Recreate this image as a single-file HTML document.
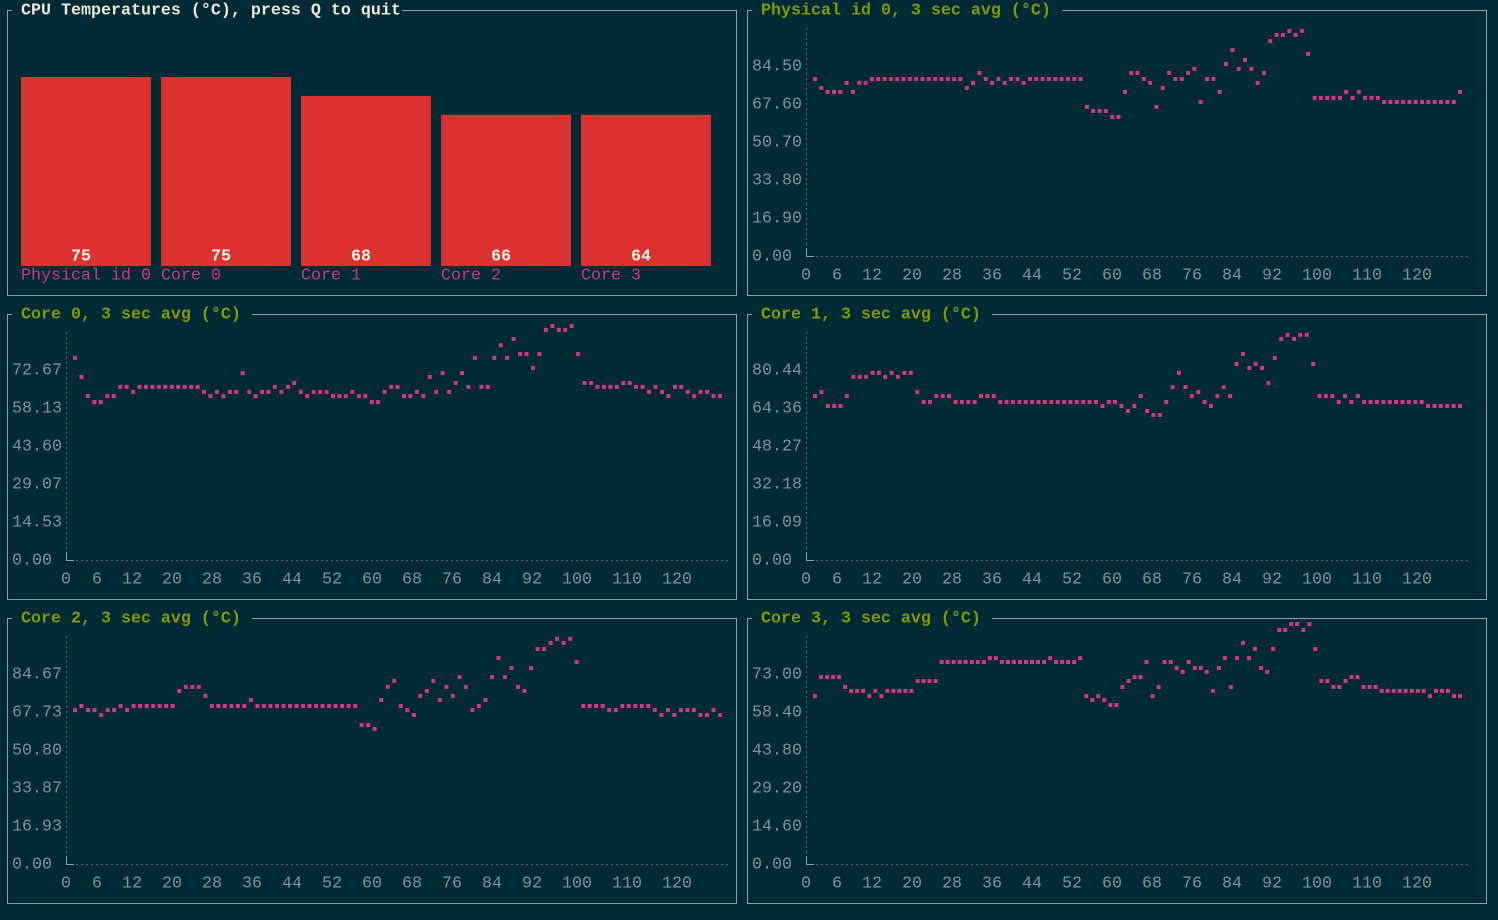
<!DOCTYPE html>
<html><head><meta charset="utf-8">
<style>
html,body{margin:0;padding:0;background:#002b36;}
svg{display:block;}
text{font-family:"Liberation Mono",monospace;font-size:16.67px;}
</style></head>
<body>
<svg id="root" width="1498" height="920" viewBox="0 0 1498 920" xmlns="http://www.w3.org/2000/svg">
<rect x="0" y="0" width="1498" height="920" fill="#002b36"/>
</svg>
<script>
// ---- bar chart data ----
const barLabels = ["Physical id 0","Core 0","Core 1","Core 2","Core 3"];
const barValues = [75,75,68,66,64];

// ---- line panels data ----
const panelTitles = ["Physical id 0, 3 sec avg (°C)","Core 0, 3 sec avg (°C)","Core 1, 3 sec avg (°C)","Core 2, 3 sec avg (°C)","Core 3, 3 sec avg (°C)"];
const yTickLabels1 = ["0.00","16.90","33.80","50.70","67.60","84.50"];
const yTickLabels2 = ["0.00","14.53","29.07","43.60","58.13","72.67"];
const yTickLabels3 = ["0.00","16.09","32.18","48.27","64.36","80.44"];
const yTickLabels4 = ["0.00","16.93","33.87","50.80","67.73","84.67"];
const yTickLabels5 = ["0.00","14.60","29.20","43.80","58.40","73.00"];
const xTickLabels = [0,6,12,20,28,36,44,52,60,68,76,84,92,100,110,120];

const seriesPhysical = [78.7,74.7,73,73,73,77,73,77,77,78.7,
78.7,78.7,78.7,78.7,78.7,78.7,78.7,78.7,78.7,78.7,78.7,78.7,78.7,78.7,
74.7,77,81.4,78.7,77,78.7,77,78.7,78.7,77,
78.7,78.7,78.7,78.7,78.7,78.7,78.7,78.7,78.7,
66.3,64.5,64.5,64.5,61.8,61.8,73,81.4,81.4,78.7,
77,66.3,74.7,81.4,78.7,78.7,81.4,83.2,68.5,78.7,78.7,73,85.4,91.6,83.2,87.2,83.2,77,81.4,
95.6,98.3,98.3,100.1,98.3,100.1,89.9,
70.3,70.3,70.3,70.3,70.3,73,70.3,73,70.3,70.3,70.3,
68.5,68.5,68.5,68.5,68.5,68.5,68.5,68.5,68.5,68.5,68.5,68.5,73];
const seriesCore0 = [77.3,70,62.7,60.4,60.4,62.7,62.7,66.2,66.2,64.3,66.2,66.2,66.2,66.2,66.2,66.2,66.2,66.2,66.2,66.2,
64.3,62.7,64.3,62.7,64.3,64.3,71.5,64.3,62.7,64.3,64.3,66.2,64.3,66.2,67.7,64.3,62.7,64.3,64.3,64.3,
62.7,62.7,62.7,64.3,62.7,62.7,60.4,60.4,64.3,66.2,66.2,62.7,
62.7,64.3,62.7,70,64.3,71.5,64.3,67.7,71.5,66.2,77.3,66.2,66.2,77.3,82.2,77.3,84.5,78.8,78.8,73.4,78.8,
88,89.5,88,88,89.5,78.8,67.7,67.7,66.2,66.2,66.2,66.2,67.7,67.7,66.2,66.2,64.3,66.2,64.3,62.7,66.2,66.2,64.3,62.7,64.3,64.3,62.7,62.7];
const seriesCore1 = [69.4,71.1,65.2,65.2,65.2,69.4,77.5,77.5,77.5,79.2,79.2,77.5,79.2,77.5,79.2,79.2,71.1,66.9,66.9,69.4,69.4,69.4,66.9,66.9,66.9,66.9,69.4,69.4,69.4,
66.9,66.9,66.9,66.9,66.9,66.9,66.9,66.9,66.9,66.9,66.9,66.9,66.9,66.9,66.9,66.9,
65.2,66.9,66.9,65.2,63.1,65.2,69.4,63.1,
61.4,61.4,66.9,73.2,79.2,73.2,69.4,71.1,66.9,65.2,69.4,73.2,69.4,83,87.2,81.3,83,81.3,74.9,85.5,93.6,95.3,93.6,95.3,95.3,83,
69.4,69.4,69.4,66.9,69.4,66.9,69.4,66.9,66.9,66.9,66.9,66.9,66.9,66.9,66.9,66.9,66.9,65.2,65.2,65.2,65.2,65.2,65.2];
const seriesCore2 = [68.6,70.4,68.6,68.6,66.4,68.6,68.6,70.4,68.6,70.4,70.4,70.4,70.4,70.4,70.4,70.4,
77.1,78.9,78.9,78.9,74.9,70.4,70.4,70.4,70.4,70.4,70.4,73.1,70.4,70.4,
70.4,70.4,70.4,70.4,70.4,70.4,70.4,70.4,70.4,70.4,70.4,70.4,70.4,70.4,
61.9,61.9,60.2,73.1,78.9,81.6,70.4,
68.6,66.4,74.9,77.1,81.6,73.1,78.9,74.9,83.3,78.9,68.6,70.4,73.1,83.3,91.8,83.3,87.3,78.9,77.1,87.3,95.8,95.8,98.5,100.3,98.5,100.3,90,
70.4,70.4,70.4,70.4,68.6,68.6,70.4,70.4,70.4,70.4,70.4,68.6,66.4,68.6,66.4,68.6,68.6,68.6,66.4,66.4,68.6,66.4];
const seriesCore3 = [64.5,71.8,71.8,71.8,71.8,68,66.5,66.5,66.5,64.5,66.5,64.5,66.5,66.5,66.5,66.5,66.5,70.3,70.3,70.3,70.3,
77.6,77.6,77.6,77.6,77.6,77.6,77.6,77.6,79.1,79.1,77.6,77.6,77.6,77.6,77.6,77.6,77.6,77.6,79.1,77.6,77.6,77.6,77.6,79.1,
64.5,63,64.5,63,61.1,61.1,68,70.3,71.8,71.8,
77.6,64.5,68,77.6,77.6,75.3,73.8,77.6,75.3,75.3,73.8,66.5,75.3,79.1,68,79.1,84.9,79.1,82.6,75.3,73.8,82.6,89.9,89.9,92.2,92.2,89.9,92.2,82.6,
70.3,70.3,68,68,70.3,71.8,71.8,68,68,68,66.5,66.5,66.5,66.5,66.5,66.5,66.5,66.5,64.5,66.5,66.5,66.5,64.5,64.5];
const yTickSteps = [16.9,14.534,16.088,16.934,14.6];

const NS="http://www.w3.org/2000/svg";
const root=document.getElementById('root');
function mk(tag,attrs,parent,txt){const e=document.createElementNS(NS,tag);for(const k in attrs)e.setAttribute(k,attrs[k]);if(txt!==undefined)e.textContent=txt;(parent||root).appendChild(e);return e;}

const BORDER="#93a1a1", TICK="#839496", AXIS="#4f7373", DOT="#d33682";

function panelFrame(x1,y1,x2,y2,title,titleColor,name){
  const g=mk('g',{});
  
  
  const r=mk('rect',{x:x1+0.5,y:y1+0.5,width:x2-x1,height:y2-y1,fill:'none',stroke:BORDER,'stroke-width':1},g);
  
  
  const tw=title.length*10;
  const bg=mk('rect',{x:x1+5,y:y1-9,width:tw+(name==='bar-panel'?10:20),height:18,fill:'#002b36'},g);
  
  
  const t=mk('text',{x:x1+14,y:y1+1,fill:titleColor,'font-weight':'bold','dominant-baseline':'central'},g,title);
  
  
  return g;
}

// ---- bar panel ----
(function(){
  const g=panelFrame(7,10,736,295,"CPU Temperatures (°C), press Q to quit","#eee8d5","bar-panel");
  const maxV=Math.max(...barValues);
  const base=266, rowH=18.9, barW=130, gap=10, x0=21;
  function barH(v){return Math.floor(v/maxV*10)*rowH;}
  barValues.forEach((v,i)=>{
    const x=x0+i*(barW+gap);
    const h=barH(v);
    const b=mk('rect',{x:x,y:base-h,width:barW,height:h,fill:'#dc322f'},g);
    
    
    const vt=mk('text',{x:x+barW/2-5,y:257,fill:'#fdf6e3','font-weight':'bold','text-anchor':'middle','dominant-baseline':'central'},g,String(v));
    
    
    const lt=mk('text',{x:x,y:276,fill:DOT,'dominant-baseline':'central'},g,barLabels[i]);
    
    
  });
})();

// ---- line panels ----
const panels=[
 {x1:747,y1:10,x2:1486,y2:295,ox:806,yb:256,ticks:yTickLabels1,step:yTickSteps[0],data:seriesPhysical,name:'physical-id-0-chart'},
 {x1:7,y1:314,x2:736,y2:599,ox:66,yb:560,ticks:yTickLabels2,step:yTickSteps[1],data:seriesCore0,name:'core-0-chart'},
 {x1:747,y1:314,x2:1486,y2:599,ox:806,yb:560,ticks:yTickLabels3,step:yTickSteps[2],data:seriesCore1,name:'core-1-chart'},
 {x1:7,y1:618,x2:736,y2:903,ox:66,yb:864,ticks:yTickLabels4,step:yTickSteps[3],data:seriesCore2,name:'core-2-chart'},
 {x1:747,y1:618,x2:1486,y2:903,ox:806,yb:864,ticks:yTickLabels5,step:yTickSteps[4],data:seriesCore3,name:'core-3-chart'}
];
panels.forEach((p,pi)=>{
  const g=panelFrame(p.x1,p.y1,p.x2,p.y2,panelTitles[pi],"#859900",p.name);
  const rowPx=38;
  const yScale=v=>p.yb - v/p.step*rowPx;
  const span=645;
  const xScale=(i,n)=>p.ox+9+i*span/(n-1);
  const xTickX=v=>p.ox-5+v*5+(v===0?0:1);
  const ya=mk('line',{x1:p.ox+0.5,y1:p.yb-228,x2:p.ox+0.5,y2:p.yb,stroke:AXIS,'stroke-dasharray':'2,3'},g);
  
  
  const xa=mk('line',{x1:p.ox,y1:p.yb+0.5,x2:p.ox+664,y2:p.yb+0.5,stroke:AXIS,'stroke-dasharray':'2,3'},g);
  
  
  const corner=mk('path',{d:`M${p.ox+0.5} ${p.yb-8} V${p.yb+0.5} H${p.ox+8}`,stroke:'#93a1a1',fill:'none'},g);
  
  
  p.ticks.forEach((lab,k)=>{
    const t=mk('text',{x:p.ox-54,y:p.yb+1-k*rowPx,fill:TICK,'dominant-baseline':'central'},g,lab);
    
    
  });
  xTickLabels.forEach(v=>{
    const t=mk('text',{x:xTickX(v),y:p.yb+20,fill:TICK,'dominant-baseline':'central'},g,String(v));
    
    
  });
  const n=p.data.length;
  p.data.forEach((v,i)=>{
    const d=mk('rect',{x:(xScale(i,n)-2).toFixed(1),y:(yScale(v)-2).toFixed(1),width:4,height:4,fill:DOT},g);
    
    
  });
});
</script>
</body></html>
